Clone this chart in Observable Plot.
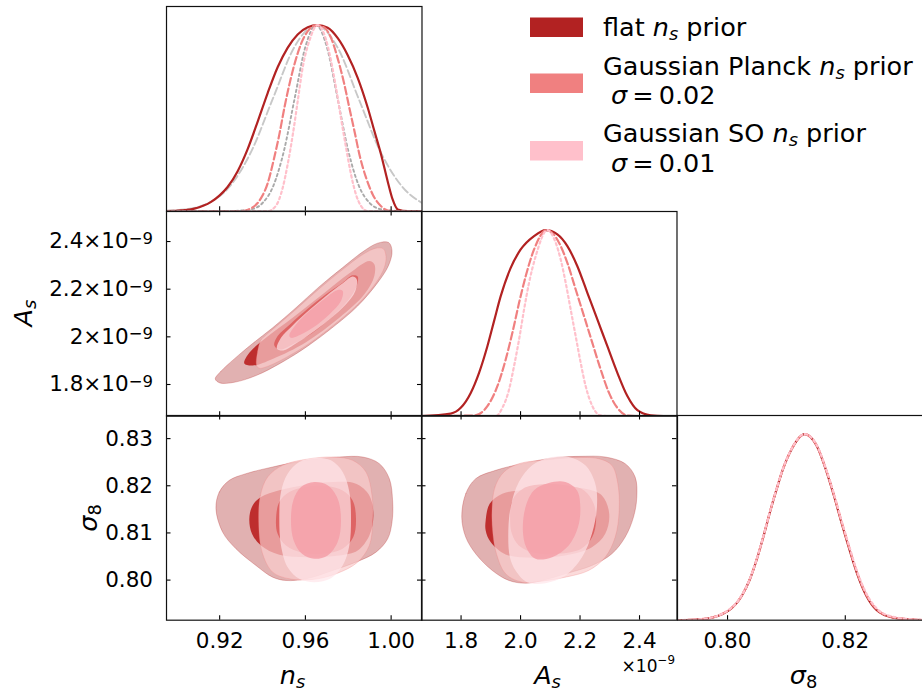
<!DOCTYPE html>
<html><head><meta charset="utf-8">
<script src="https://cdn.jsdelivr.net/npm/d3@7"></script>
<script src="https://cdn.jsdelivr.net/npm/@observablehq/plot@0.6"></script>
<style>
body{margin:0;background:#fff;}
#fig{position:relative;width:922px;height:691px;overflow:hidden;background:#fff;font-family:"DejaVu Sans";}
#fig svg{position:absolute;overflow:visible;max-width:none;}
</style></head><body><div id="fig"></div>
<script>
// ---------------- DATA ----------------
const nsTicks = [0.92, 0.96, 1.00], nsLabels = ["0.92", "0.96", "1.00"];
const AsTicks = [1.8, 2.0, 2.2, 2.4], AsXLabels = ["1.8", "2.0", "2.2", "2.4"];
const AsYMantissa = ["1.8", "2", "2.2", "2.4"], AsExponent = "\u22129";
const s8YTicks = [0.80, 0.81, 0.82, 0.83], s8YLabels = ["0.80", "0.81", "0.82", "0.83"];
const s8XTicks = [0.80, 0.82], s8XLabels = ["0.80", "0.82"];
const nsDomain = [0.8952, 1.0144], AsDomain = [1.667, 2.526], s8Domain = [0.7915, 0.8349], pDomain = [0, 1.1];

const legendNames = ["flat", "Gaussian Planck", "Gaussian SO"];
const legendSigma = [null, "0.02", "0.01"];

// 1D marginals (normalised density)
const flatNs = [[0.8952,0],[0.9020,0.004],[0.9082,0.014],[0.9160,0.05],[0.9200,0.085],[0.9237,0.13],[0.9284,0.215],[0.9331,0.335],[0.9377,0.48],[0.9424,0.635],[0.9471,0.775],[0.9517,0.878],[0.9564,0.95],[0.9611,0.988],[0.9657,1.0],[0.9704,0.986],[0.9751,0.93],[0.9797,0.84],[0.9844,0.717],[0.9891,0.556],[0.9922,0.43],[0.9953,0.305],[0.9984,0.16],[1.0007,0.063],[1.0031,0.009],[1.0077,0],[1.0144,0]];
const planckNs = [[0.8952,0],[0.9300,0],[0.9346,0.015],[0.9393,0.07],[0.9424,0.15],[0.9455,0.29],[0.9478,0.41],[0.9502,0.556],[0.9525,0.68],[0.9549,0.79],[0.9580,0.90],[0.9618,0.977],[0.9654,1.0],[0.9689,0.986],[0.9720,0.93],[0.9751,0.82],[0.9782,0.68],[0.9805,0.556],[0.9829,0.43],[0.9852,0.305],[0.9883,0.18],[0.9914,0.09],[0.9953,0.027],[1.0000,0],[1.0144,0]];
const soNs = [[0.8952,0],[0.9424,0],[0.9463,0.03],[0.9494,0.125],[0.9517,0.25],[0.9541,0.41],[0.9564,0.59],[0.9587,0.77],[0.9618,0.914],[0.9657,1.0],[0.9696,0.923],[0.9720,0.806],[0.9743,0.663],[0.9766,0.50],[0.9790,0.34],[0.9813,0.197],[0.9836,0.09],[0.9860,0.027],[0.9891,0],[1.0144,0]];
const priorPlanckNs = [[0.8952,0.003],[0.905,0.011],[0.915,0.045],[0.925,0.137],[0.935,0.327],[0.945,0.61],[0.955,0.885],[0.965,1.0],[0.975,0.88],[0.985,0.60],[0.995,0.32],[1.005,0.134],[1.0144,0.044]];
const priorSONs = [[0.925,0],[0.935,0.011],[0.940,0.044],[0.945,0.135],[0.950,0.325],[0.955,0.607],[0.960,0.883],[0.965,1.0],[0.970,0.883],[0.975,0.607],[0.980,0.325],[0.985,0.135],[0.990,0.044],[0.995,0.011],[1.005,0]];

const flatAs = [[1.667,0],[1.7653,0.014],[1.7989,0.045],[1.8325,0.125],[1.8605,0.233],[1.8885,0.376],[1.9109,0.511],[1.9333,0.645],[1.9669,0.797],[2.0005,0.896],[2.0454,0.968],[2.0846,1.0],[2.1238,0.977],[2.1574,0.914],[2.1910,0.806],[2.2246,0.663],[2.2582,0.520],[2.2919,0.376],[2.3255,0.233],[2.3591,0.108],[2.3927,0.032],[2.4375,0.004],[2.4800,0],[2.526,0]];
const planckAs = [[1.667,0],[1.8437,0.004],[1.8885,0.054],[1.9221,0.161],[1.9501,0.305],[1.9725,0.448],[1.9950,0.609],[2.0174,0.753],[2.0454,0.896],[2.0879,1.0],[2.1294,0.932],[2.1574,0.824],[2.1854,0.681],[2.2134,0.538],[2.2414,0.394],[2.2694,0.251],[2.2975,0.125],[2.3255,0.045],[2.3591,0.004],[2.40,0],[2.526,0]];
const soAs = [[1.667,0],[1.9165,0],[1.9389,0.045],[1.9613,0.143],[1.9781,0.269],[1.9950,0.412],[2.0118,0.573],[2.0286,0.717],[2.0510,0.860],[2.0902,1.0],[2.1182,0.932],[2.1350,0.842],[2.1518,0.717],[2.1686,0.573],[2.1854,0.430],[2.2022,0.287],[2.2190,0.161],[2.2414,0.054],[2.2694,0.004],[2.30,0],[2.526,0]];

const flatS8 = [[0.7915,0],[0.7959,0.006],[0.8001,0.05],[0.8024,0.13],[0.8038,0.22],[0.8050,0.33],[0.8061,0.45],[0.8072,0.58],[0.8083,0.70],[0.8094,0.81],[0.8109,0.92],[0.8131,1.0],[0.8151,0.94],[0.8168,0.80],[0.8182,0.655],[0.8193,0.53],[0.8207,0.38],[0.8219,0.26],[0.8236,0.13],[0.8253,0.055],[0.8281,0.014],[0.8320,0.002],[0.8349,0]];
const planckS8 = [[0.7915,0],[0.7959,0.007],[0.8001,0.052],[0.8024,0.132],[0.8038,0.222],[0.8050,0.332],[0.8061,0.452],[0.8072,0.582],[0.8083,0.702],[0.8094,0.812],[0.8109,0.921],[0.8131,1.0],[0.8151,0.942],[0.8168,0.803],[0.8182,0.66],[0.8193,0.536],[0.8207,0.387],[0.8219,0.266],[0.8236,0.136],[0.8253,0.06],[0.8281,0.016],[0.8320,0.002],[0.8349,0]];
const soS8 = [[0.7915,0],[0.7959,0.007],[0.8001,0.053],[0.8024,0.133],[0.8038,0.223],[0.8050,0.333],[0.8061,0.453],[0.8072,0.583],[0.8083,0.703],[0.8094,0.813],[0.8109,0.922],[0.8131,1.0],[0.8151,0.944],[0.8168,0.806],[0.8182,0.665],[0.8193,0.542],[0.8207,0.394],[0.8219,0.272],[0.8236,0.142],[0.8253,0.064],[0.8281,0.018],[0.8320,0.003],[0.8349,0]];

// 2D contours: ns vs As
const flat95NsAs = [[0.91796,1.8233],[0.92061,1.8556],[0.92683,1.9075],[0.93538,1.9721],[0.94472,2.0380],[0.95561,2.1222],[0.96650,2.2107],[0.97739,2.2907],[0.98672,2.3566],[0.99372,2.3931],[0.99885,2.3959],[1.00041,2.3608],[0.99885,2.3005],[0.99372,2.2275],[0.98439,2.1293],[0.97350,2.0451],[0.96105,1.9609],[0.94861,1.8907],[0.93694,1.8373],[0.92683,1.8093],[0.92014,1.8065]];
const flat68NsAs = [[0.93150,1.8879],[0.93383,1.9328],[0.94161,1.9959],[0.95405,2.0801],[0.96805,2.1784],[0.98050,2.2668],[0.98983,2.3187],[0.99216,2.3047],[0.99216,2.2556],[0.98750,2.1784],[0.97583,2.0801],[0.96028,1.9777],[0.94472,1.9075],[0.93538,1.8795]];
const planck95NsAs = [[0.93725,1.8794],[0.93772,1.9398],[0.93927,1.9861],[0.94161,2.0072],[0.94472,2.0310],[0.95561,2.1152],[0.96650,2.2022],[0.97739,2.2822],[0.98672,2.3454],[0.99294,2.3721],[0.99636,2.3693],[0.99761,2.3370],[0.99683,2.2907],[0.99294,2.2275],[0.98439,2.1363],[0.97350,2.0521],[0.96105,1.9679],[0.94861,1.9019],[0.94161,1.8738],[0.93850,1.8682]];
const planck68NsAs = [[0.94550,1.9637],[0.94705,2.0030],[0.95327,2.0563],[0.96105,2.1180],[0.96961,2.1784],[0.97739,2.2275],[0.98205,2.2584],[0.98439,2.2528],[0.98392,2.2135],[0.97972,2.1503],[0.97194,2.0801],[0.96339,2.0170],[0.95483,1.9721],[0.94814,1.9468]];
const so95NsAs = [[0.94674,1.9496],[0.94861,1.9959],[0.95405,2.0479],[0.96183,2.1124],[0.96961,2.1714],[0.97739,2.2247],[0.98205,2.2528],[0.98392,2.2416],[0.98330,2.1924],[0.97894,2.1363],[0.97116,2.0731],[0.96261,2.0142],[0.95483,1.9679],[0.94970,1.9426]];
const so68NsAs = [[0.95250,2.0058],[0.95561,2.0521],[0.96183,2.1082],[0.96961,2.1644],[0.97505,2.1966],[0.97739,2.1924],[0.97661,2.1503],[0.97116,2.0942],[0.96339,2.0380],[0.95638,2.0030],[0.95327,1.9959]];

// 2D contours: ns vs sigma8
const flat95NsS8 = [[0.91827,0.81513],[0.91983,0.81867],[0.92450,0.82115],[0.93227,0.82256],[0.94472,0.82398],[0.96028,0.82539],[0.97583,0.82610],[0.98672,0.82610],[0.99450,0.82469],[0.99916,0.82150],[1.00072,0.81655],[1.00041,0.81230],[0.99839,0.80876],[0.99294,0.80593],[0.98361,0.80381],[0.97272,0.80204],[0.96028,0.80027],[0.95094,0.79992],[0.94472,0.80062],[0.93694,0.80310],[0.92761,0.80664],[0.92138,0.81018]];
const flat68NsS8 = [[0.93383,0.81301],[0.93538,0.81584],[0.93927,0.81761],[0.94783,0.81903],[0.96028,0.82023],[0.97272,0.82079],[0.98361,0.82044],[0.98983,0.81796],[0.99170,0.81372],[0.98983,0.80947],[0.98439,0.80629],[0.97583,0.80522],[0.96028,0.80487],[0.94783,0.80537],[0.93927,0.80735],[0.93507,0.80982]];
const planck95NsS8 = [[0.93820,0.81230],[0.93900,0.81796],[0.94238,0.82185],[0.94938,0.82433],[0.96028,0.82561],[0.97272,0.82610],[0.98205,0.82539],[0.98828,0.82292],[0.99108,0.81796],[0.99139,0.81230],[0.98983,0.80735],[0.98439,0.80381],[0.97428,0.80133],[0.96339,0.80013],[0.95250,0.80027],[0.94472,0.80169],[0.93980,0.80593]];
const planck68NsS8 = [[0.94627,0.81265],[0.94783,0.81655],[0.95250,0.81867],[0.96028,0.81973],[0.96961,0.81994],[0.97739,0.81902],[0.98205,0.81690],[0.98361,0.81301],[0.98236,0.80912],[0.97739,0.80664],[0.96805,0.80558],[0.95872,0.80579],[0.95094,0.80735],[0.94705,0.80982]];
const so95NsS8 = [[0.94783,0.81301],[0.94861,0.81867],[0.95172,0.82256],[0.95716,0.82504],[0.96416,0.82589],[0.97194,0.82539],[0.97739,0.82292],[0.98050,0.81867],[0.98128,0.81301],[0.98050,0.80735],[0.97739,0.80310],[0.97194,0.80041],[0.96416,0.79956],[0.95716,0.80027],[0.95172,0.80275],[0.94861,0.80735]];
const so68NsS8 = [[0.95327,0.81265],[0.95436,0.81690],[0.95794,0.81973],[0.96416,0.82079],[0.97038,0.82009],[0.97505,0.81726],[0.97661,0.81265],[0.97505,0.80806],[0.97038,0.80522],[0.96416,0.80452],[0.95841,0.80558],[0.95452,0.80841]];

// 2D contours: As vs sigma8
const flat95AsS8 = [[1.80234,0.81336],[1.81575,0.81832],[1.84925,0.82150],[1.91625,0.82327],[2.00559,0.82469],[2.11725,0.82596],[2.20659,0.82624],[2.28476,0.82610],[2.35176,0.82469],[2.38526,0.82185],[2.39084,0.81761],[2.37968,0.81336],[2.35176,0.80912],[2.30709,0.80558],[2.24009,0.80310],[2.15075,0.80133],[2.07259,0.79992],[2.01675,0.79935],[1.96092,0.79992],[1.90508,0.80204],[1.84925,0.80558],[1.81575,0.80912]];
const flat68AsS8 = [[1.88275,0.81265],[1.89615,0.81619],[1.93858,0.81832],[2.01675,0.81917],[2.11725,0.81959],[2.21775,0.81938],[2.27359,0.81796],[2.29816,0.81407],[2.28476,0.80982],[2.24009,0.80699],[2.15075,0.80523],[2.03909,0.80473],[1.94975,0.80544],[1.89950,0.80806],[1.88275,0.81053]];
const planck95AsS8 = [[1.90400,0.81478],[1.91400,0.81973],[1.94416,0.82292],[1.99442,0.82469],[2.09492,0.82553],[2.18425,0.82596],[2.26242,0.82575],[2.30709,0.82433],[2.32719,0.82044],[2.33166,0.81478],[2.31826,0.80912],[2.28476,0.80487],[2.22892,0.80204],[2.15075,0.80062],[2.07259,0.79978],[2.00559,0.79956],[1.94975,0.80133],[1.91900,0.80558],[1.90700,0.80982]];
const planck68AsS8 = [[1.96500,0.81265],[1.97200,0.81690],[2.00800,0.81938],[2.07259,0.82030],[2.15075,0.82009],[2.21400,0.81902],[2.24600,0.81619],[2.25400,0.81265],[2.24100,0.80912],[2.20400,0.80664],[2.12842,0.80558],[2.05025,0.80572],[1.99400,0.80735],[1.97100,0.80982]];
const so95AsS8 = [[1.95868,0.80912],[1.96650,0.81549],[1.99442,0.82079],[2.03909,0.82433],[2.09492,0.82596],[2.16192,0.82610],[2.21775,0.82433],[2.25125,0.82044],[2.25684,0.81549],[2.24009,0.80982],[2.20659,0.80487],[2.15075,0.80098],[2.08375,0.79935],[2.02234,0.79956],[1.98326,0.80204],[1.96427,0.80487]];
const so68AsS8 = [[2.00782,0.81053],[2.01675,0.81549],[2.04467,0.81902],[2.09492,0.82058],[2.15075,0.82079],[2.18983,0.81902],[2.20100,0.81549],[2.19318,0.81124],[2.16192,0.80735],[2.10608,0.80487],[2.05025,0.80452],[2.01899,0.80699]];

// ---------------- STYLE ----------------
const colFlat = "#b22222", colPlanck = "#f08080", colSO = "#ffc0cb";
const FONT = "DejaVu Sans";
const L = {cols: [165.5, 421, 676.5], rows: [6, 210.5, 415.2], w: 255.5, h: 204.7};
const TK = 4.5, TW = 1.1;
const fig = document.getElementById("fig");

function makePanel(col, row, xd, yd, marks) {
  const svg = Plot.plot({
    width: L.w, height: L.h, marginTop: 0, marginRight: 0, marginBottom: 0, marginLeft: 0,
    x: {domain: xd, axis: null}, y: {domain: yd, axis: null},
    style: {fontFamily: FONT, fontSize: "21.5px", overflow: "visible", background: "transparent", color: "#000"},
    marks
  });
  svg.style.position = "absolute";
  svg.style.left = L.cols[col] + "px";
  svg.style.top = L.rows[row] + "px";
  fig.appendChild(svg);
  return svg;
}
const tickB = v => Plot.tickX(v, {x: d => d, insetTop: L.h - TK, stroke: "#000", strokeWidth: TW});
const tickT = v => Plot.tickX(v, {x: d => d, insetBottom: L.h - TK, stroke: "#000", strokeWidth: TW});
const tickL = v => Plot.tickY(v, {y: d => d, insetRight: L.w - TK, stroke: "#000", strokeWidth: TW});
const tickR = v => Plot.tickY(v, {y: d => d, insetLeft: L.w - TK, stroke: "#000", strokeWidth: TW});
const labX = (v, labels) => Plot.axisX({ticks: v, tickFormat: d => labels[v.indexOf(d)], tickSize: 0, tickPadding: 13, anchor: "bottom", label: null, fontSize: 21.5});
const labY = (v, labels) => Plot.axisY({ticks: v, tickFormat: d => labels[v.indexOf(d)], tickSize: 0, tickPadding: 13.5, anchor: "left", label: null, fontSize: 21.5});
const frame = () => Plot.frame({stroke: "#111", strokeWidth: 1.2});

const line1D = (data, color, dash, w = 2.2) => Plot.line(data, {x: d => d[0], y: d => d[1], stroke: color, strokeWidth: w, strokeDasharray: dash, curve: "monotone-x", clip: true});
const cont = (data, fill, op, edge) => Plot.line(data, {x: d => d[0], y: d => d[1], fill, fillOpacity: op, stroke: edge || "none", strokeWidth: 0.8, strokeOpacity: 0.35, curve: "catmull-rom-closed"});
const DASH = "7.5,3.3", DOT = "2.4,3";

function contours(f95, f68, p95, p68, s95, s68) {
  return [
    cont(f95, "#e1b1b1", 1, colFlat),
    cont(f68, "#be2e2e", 1),
    cont(p95, "#f9cccc", 0.7, colPlanck),
    cont(p68, "#dc5b5b", 0.85),
    cont(s95, "#ffe6ea", 0.7),
    cont(s68, "#f59fa8", 0.85)
  ];
}

// Row 1: ns marginal
makePanel(0, 0, nsDomain, pDomain, [
  line1D(priorPlanckNs, "#c8c8c8", DASH, 1.9),
  line1D(priorSONs, "#aaaaaa", DOT, 1.9),
  line1D(flatNs, colFlat, null),
  line1D(planckNs, colPlanck, DASH),
  line1D(soNs, colSO, DOT),
  tickB(nsTicks), frame()
]);

// Row 2: ns vs As
const p21 = makePanel(0, 1, nsDomain, AsDomain, [
  ...contours(flat95NsAs, flat68NsAs, planck95NsAs, planck68NsAs, so95NsAs, so68NsAs),
  tickT(nsTicks), tickB(nsTicks), tickL(AsTicks), tickR(AsTicks),
  labY(AsTicks, AsYMantissa), frame()
]);
p21.querySelectorAll('g[aria-label="y-axis tick label"] text').forEach(t => {
  t.textContent = t.textContent + "\u00d710";
  const sup = document.createElementNS("http://www.w3.org/2000/svg", "tspan");
  sup.setAttribute("font-size", "16.5");
  sup.setAttribute("dy", "-4.5");
  sup.textContent = AsExponent;
  t.appendChild(sup);
});

// Row 2: As marginal
makePanel(1, 1, AsDomain, pDomain, [
  line1D(flatAs, colFlat, null),
  line1D(planckAs, colPlanck, DASH),
  line1D(soAs, colSO, DOT),
  tickB(AsTicks), frame()
]);

// Row 3: ns vs s8
makePanel(0, 2, nsDomain, s8Domain, [
  ...contours(flat95NsS8, flat68NsS8, planck95NsS8, planck68NsS8, so95NsS8, so68NsS8),
  tickT(nsTicks), tickB(nsTicks), tickL(s8YTicks), tickR(s8YTicks),
  labX(nsTicks, nsLabels), labY(s8YTicks, s8YLabels), frame()
]);

// Row 3: As vs s8
makePanel(1, 2, AsDomain, s8Domain, [
  ...contours(flat95AsS8, flat68AsS8, planck95AsS8, planck68AsS8, so95AsS8, so68AsS8),
  tickT(AsTicks), tickB(AsTicks), tickL(s8YTicks), tickR(s8YTicks),
  labX(AsTicks, AsXLabels), frame()
]);

// Row 3: s8 marginal
makePanel(2, 2, s8Domain, pDomain, [
  line1D(flatS8, colFlat, null),
  line1D(planckS8, colPlanck, DASH),
  line1D(soS8, colSO, DOT),
  tickB(s8XTicks), labX(s8XTicks, s8XLabels), frame()
]);

// ---------------- OVERLAY TEXT (legend, axis labels) ----------------
const ov = d3.select(fig).append("svg").attr("width", 922).attr("height", 691)
  .style("left", "0px").style("top", "0px").style("font-family", FONT).style("white-space", "pre");

function rich(x, y, parts, size, opts = {}) {
  const t = ov.append("text").attr("x", x).attr("y", y).attr("font-size", size)
    .attr("text-anchor", opts.anchor || "start").attr("fill", "#000");
  if (opts.rotate) t.attr("transform", `rotate(-90 ${x} ${y})`);
  let shift = 0;
  for (const p of parts) {
    const ts = t.append("tspan").text(p.t);
    if (p.it) ts.attr("font-style", "italic");
    const target = p.sub ? size * 0.17 : p.sup ? -size * 0.42 : 0;
    if (p.sub || p.sup) ts.attr("font-size", size * 0.7);
    if (target !== shift) { ts.attr("dy", target - shift); shift = target; }
  }
  return t;
}

// legend
const legColors = [colFlat, colPlanck, colSO];
const legRectY = [17.5, 73.5, 141];
const legLine1Y = [36, 75, 142];
const legLine2Y = [null, 104, 172];
const LS = 25.5;
legendNames.forEach((name, i) => {
  ov.append("rect").attr("x", 530).attr("y", legRectY[i]).attr("width", 53).attr("height", 19.5).attr("fill", legColors[i]);
  rich(603, legLine1Y[i], [{t: name + " "}, {t: "n", it: 1}, {t: "s", it: 1, sub: 1}, {t: " prior"}], LS);
  if (legendSigma[i]) rich(611, legLine2Y[i], [{t: "\u03c3", it: 1}, {t: "\u2009=\u2009" + legendSigma[i]}], LS);
});

// axis labels
rich(292.5, 684, [{t: "n", it: 1}, {t: "s", it: 1, sub: 1}], LS, {anchor: "middle"});
rich(547.5, 683.5, [{t: "A", it: 1}, {t: "s", it: 1, sub: 1}], LS, {anchor: "middle"});
rich(803.5, 683.5, [{t: "\u03c3", it: 1}, {t: "8", sub: 1}], LS, {anchor: "middle"});
rich(31.5, 313, [{t: "A", it: 1}, {t: "s", it: 1, sub: 1}], LS, {anchor: "middle", rotate: 1});
rich(96.5, 518, [{t: "\u03c3", it: 1}, {t: "8", sub: 1}], LS, {anchor: "middle", rotate: 1});
// offset text for As axis
rich(675, 671.5, [{t: "\u00d710"}, {t: AsExponent, sup: 1}], 17, {anchor: "end"});
</script></body></html>
